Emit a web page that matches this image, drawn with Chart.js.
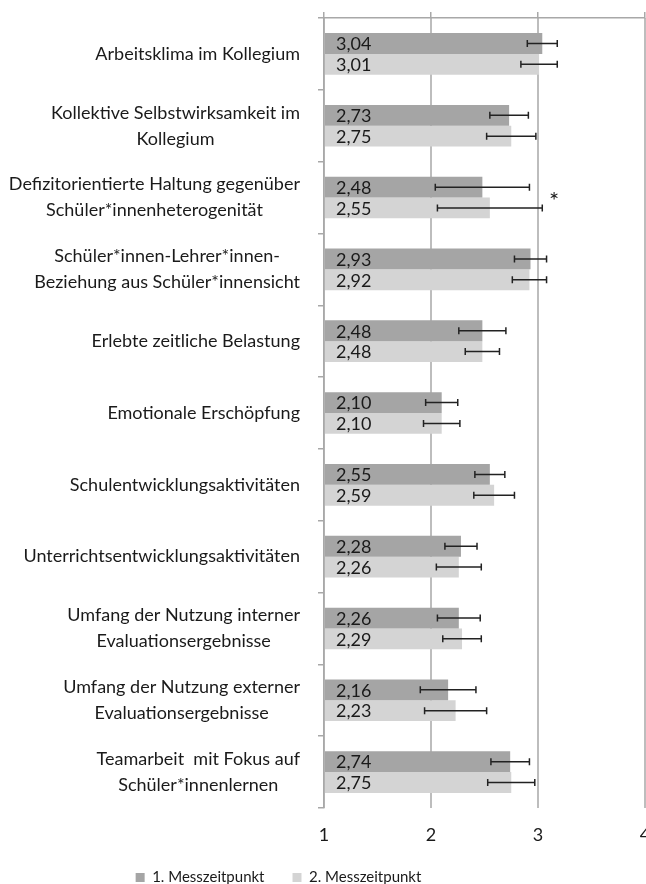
<!DOCTYPE html>
<html>
<head>
<meta charset="utf-8">
<title>Messzeitpunkte</title>
<script src="https://cdn.jsdelivr.net/npm/chart.js@4.4.0/dist/chart.umd.min.js"></script>
<style>
  html, body { margin: 0; padding: 0; background: #fff; overflow: hidden; }
  #wrap { width: 646px; height: 884px; overflow: hidden; }
</style>
</head>
<body>
<div id="wrap"><canvas id="chart" width="680" height="895"></canvas></div>
<script>
// =====================================
// DATA
// =====================================
const categories = [
  "Arbeitsklima im Kollegium",
  ["Kollektive Selbstwirksamkeit im", "Kollegium"],
  ["Defizitorientierte Haltung gegenüber", "Schüler*innenheterogenität"],
  ["Schüler*innen-Lehrer*innen-", "Beziehung aus Schüler*innensicht"],
  "Erlebte zeitliche Belastung",
  "Emotionale Erschöpfung",
  "Schulentwicklungsaktivitäten",
  "Unterrichtsentwicklungsaktivitäten",
  ["Umfang der Nutzung interner", "Evaluationsergebnisse"],
  ["Umfang der Nutzung externer", "Evaluationsergebnisse"],
  ["Teamarbeit  mit Fokus auf", "Schüler*innenlernen"]
];
const seriesNames = ["1. Messzeitpunkt", "2. Messzeitpunkt"];
const t1Values = [3.04, 2.73, 2.48, 2.93, 2.48, 2.10, 2.55, 2.28, 2.26, 2.16, 2.74];
const t2Values = [3.01, 2.75, 2.55, 2.92, 2.48, 2.10, 2.59, 2.26, 2.29, 2.23, 2.75];
const t1Errors = [0.14, 0.18, 0.44, 0.15, 0.22, 0.15, 0.14, 0.15, 0.20, 0.26, 0.18];
const t2Errors = [0.17, 0.23, 0.49, 0.16, 0.16, 0.17, 0.19, 0.21, 0.18, 0.29, 0.22];
const xMin = 1;
const xMax = 4;
const xStep = 1;
// significance marker: category index and value position
const markerCategory = 2;
const markerValue = 3.15;

// =====================================
// STYLE
// =====================================
const FONT = "Lato";
const TEXT = "#1a1a1a";
const AXIS_GRAY = "#a8a8a8";
const GRID_GRAY = "#bdbdbd";
const COLORS = ["#a5a5a5", "#d4d4d4"];
const LEGEND_SHIFT = -44;

// =====================================
// PLUGINS
// =====================================
const categoryLabels = {
  id: "categoryLabels",
  afterDraw(chart) {
    const ctx = chart.ctx;
    const yScale = chart.scales.y;
    const right = yScale.right - 24;
    const lineH = 26;
    ctx.save();
    ctx.font = `18px ${FONT}`;
    ctx.fillStyle = TEXT;
    ctx.textAlign = "center";
    ctx.textBaseline = "middle";
    chart.data.labels.forEach((lab, i) => {
      const lines = Array.isArray(lab) ? lab : [lab];
      const w = Math.max(...lines.map(l => ctx.measureText(l).width));
      const cx = right - w / 2;
      const cy = yScale.getPixelForValue(i);
      lines.forEach((l, k) => {
        ctx.fillText(l, cx, cy + (k - (lines.length - 1) / 2) * lineH);
      });
    });
    ctx.restore();
  }
};

const barExtras = {
  id: "barExtras",
  afterDatasetsDraw(chart) {
    const ctx = chart.ctx;
    const xScale = chart.scales.x;
    const yScale = chart.scales.y;
    const errors = [t1Errors, t2Errors];
    ctx.save();

    chart.data.datasets.forEach((ds, di) => {
      const meta = chart.getDatasetMeta(di);
      meta.data.forEach((bar, i) => {
        const v = ds.data[i];
        // value label inside bar
        ctx.font = `18px ${FONT}`;
        ctx.fillStyle = TEXT;
        ctx.textAlign = "left";
        ctx.textBaseline = "middle";
        ctx.fillText(v.toFixed(2).replace(".", ","), bar.base + 11, bar.y + 1);

        // error bar
        const lo = xScale.getPixelForValue(v - errors[di][i]);
        const hi = xScale.getPixelForValue(v + errors[di][i]);
        ctx.strokeStyle = "#222";
        ctx.lineWidth = 1.5;
        ctx.beginPath();
        ctx.moveTo(lo, bar.y); ctx.lineTo(hi, bar.y);
        ctx.moveTo(lo, bar.y - 3.5); ctx.lineTo(lo, bar.y + 3.5);
        ctx.moveTo(hi, bar.y - 3.5); ctx.lineTo(hi, bar.y + 3.5);
        ctx.stroke();
      });
    });

    // significance asterisk
    ctx.font = `24px ${FONT}`;
    ctx.fillStyle = TEXT;
    ctx.textAlign = "center";
    ctx.textBaseline = "middle";
    ctx.fillText("*", xScale.getPixelForValue(markerValue), yScale.getPixelForValue(markerCategory) + 4);
    ctx.restore();
  }
};

// legend sits left of the canvas centre, as in the original
const legendShift = {
  id: "legendShift",
  afterLayout(chart) {
    chart.legend.left += LEGEND_SHIFT;
    chart.legend.right += LEGEND_SHIFT;
  }
};

// =====================================
// CHART
// =====================================
new Chart(document.getElementById("chart"), {
  type: "bar",
  data: {
    labels: categories,
    datasets: [
      { label: seriesNames[0], data: t1Values, backgroundColor: COLORS[0], borderWidth: 0,
        base: xMin, barPercentage: 1, categoryPercentage: 0.58 },
      { label: seriesNames[1], data: t2Values, backgroundColor: COLORS[1], borderWidth: 0,
        base: xMin, barPercentage: 1, categoryPercentage: 0.58 }
    ]
  },
  options: {
    indexAxis: "y",
    responsive: false,
    animation: false,
    layout: { padding: { top: 12, right: 35, left: 0, bottom: 0 } },
    plugins: {
      legend: {
        position: "bottom",
        labels: {
          boxWidth: 9,
          boxHeight: 9,
          padding: 28,
          color: TEXT,
          font: { family: FONT, size: 15 }
        }
      },
      tooltip: { enabled: false }
    },
    scales: {
      y: {
        type: "category",
        grid: { offset: true, drawOnChartArea: false, drawTicks: true, tickLength: 6,
                color: AXIS_GRAY, lineWidth: 1.5 },
        border: { display: true, color: AXIS_GRAY, width: 1.5 },
        ticks: { display: false },
        afterFit(scale) { scale.width = 324; }
      },
      x: {
        type: "linear",
        position: "bottom",
        min: xMin,
        max: xMax,
        ticks: { stepSize: xStep, padding: 16, color: TEXT, font: { family: FONT, size: 18 } },
        grid: { color: GRID_GRAY, lineWidth: 2, drawTicks: false },
        border: { display: false },
        afterFit(scale) { scale.height = 34; }
      },
      x2: {
        type: "linear",
        position: "top",
        min: xMin,
        max: xMax,
        ticks: { display: false, stepSize: xStep },
        grid: { drawOnChartArea: false, drawTicks: true, tickLength: 6, color: AXIS_GRAY, lineWidth: 1.5 },
        border: { display: true, color: AXIS_GRAY, width: 1.5 }
      }
    }
  },
  plugins: [categoryLabels, barExtras, legendShift]
});
</script>
</body>
</html>
